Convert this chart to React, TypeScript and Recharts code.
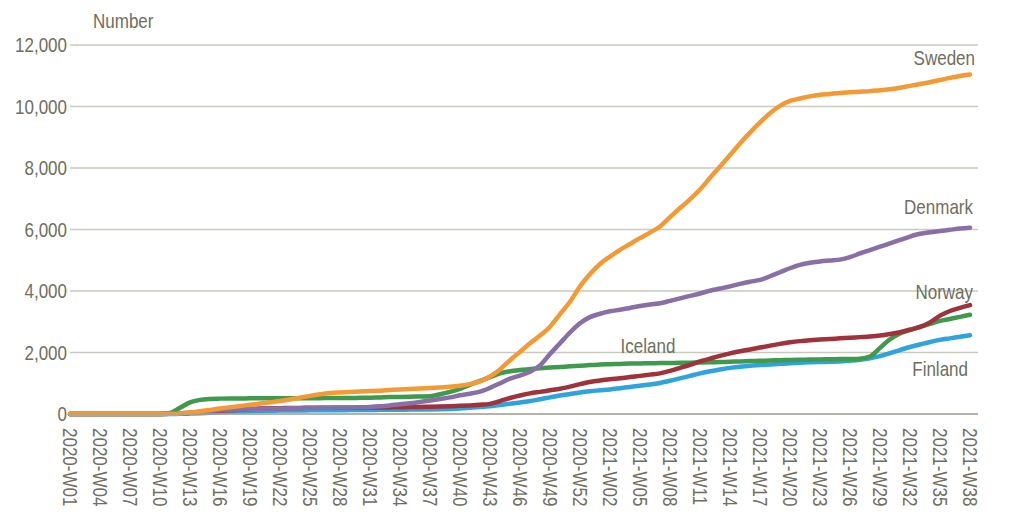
import { CartesianGrid, Line, LineChart, ReferenceDot, XAxis, YAxis } from 'recharts';

const weeks: string[] = [];
for (let w = 1; w <= 53; w++) weeks.push(`2020-W${String(w).padStart(2, '0')}`);
for (let w = 1; w <= 38; w++) weeks.push(`2021-W${String(w).padStart(2, '0')}`);

const sweden = [
    0, 0, 0, 0, 0, 0, 0, 0, 0, 0,
    5, 20, 50, 90, 130, 180, 220, 260, 300, 340,
    380, 420, 470, 530, 590, 640, 680, 700, 715, 730,
    745, 760, 780, 800, 815, 830, 845, 865, 890, 920,
    970, 1060, 1220, 1450, 1750, 2020, 2300, 2550, 2840, 3250,
    3650, 4150, 4550,
    4880, 5120, 5340, 5530, 5720, 5900, 6100, 6400, 6700, 6980,
    7300, 7680, 8050, 8420, 8800, 9150, 9480, 9780, 10020, 10180,
    10260, 10330, 10380, 10410, 10440, 10460, 10480, 10500, 10530, 10560,
    10610, 10670, 10730, 10790, 10860, 10930, 10990, 11040,
];
const denmark = [
    0, 0, 0, 0, 0, 0, 0, 0, 0, 0,
    5, 15, 40, 70, 100, 120, 140, 150, 160, 170,
    175, 180, 185, 190, 195, 200, 205, 210, 215, 220,
    230, 250, 280, 320, 350, 390, 440, 490, 540, 610,
    660, 725, 850, 1000, 1150, 1250, 1375, 1580, 1950, 2300,
    2650, 2950, 3150,
    3260, 3340, 3390, 3450, 3510, 3560, 3600, 3680, 3760, 3840,
    3920, 4010, 4080, 4150, 4230, 4300, 4360, 4480, 4610, 4740,
    4850, 4920, 4960, 4990, 5020, 5100, 5220, 5330, 5440, 5550,
    5660, 5770, 5860, 5910, 5950, 5990, 6030, 6060,
];
const norway = [
    0, 0, 0, 0, 0, 0, 0, 0, 0, 0,
    5, 20, 40, 60, 80, 100, 120, 140, 160, 175,
    185, 190, 195, 198, 200, 200, 200, 200, 200, 205,
    210, 210, 215, 220, 225, 230, 235, 240, 250, 265,
    280, 300, 330, 420, 520, 600, 670, 720, 770, 820,
    890, 970, 1040,
    1090, 1130, 1160, 1200, 1240, 1280, 1320, 1400, 1500, 1600,
    1710, 1800, 1890, 1970, 2040, 2100, 2160, 2220, 2280, 2330,
    2370, 2400, 2420, 2440, 2460, 2480, 2500, 2520, 2550, 2600,
    2660, 2740, 2830, 2980, 3200, 3350, 3450, 3540,
];
const iceland = [
    0, 0, 0, 0, 0, 0, 0, 0, 0, 0,
    30, 200, 380, 460, 490, 500, 505, 505, 510, 510,
    510, 510, 510, 515, 515, 515, 520, 520, 520, 525,
    530, 540, 550, 555, 560, 570, 580, 640, 720, 820,
    950, 1080, 1200, 1320, 1390, 1430, 1460, 1490, 1510, 1530,
    1550, 1570, 1590,
    1610, 1620, 1630, 1640, 1645, 1650, 1655, 1660, 1665, 1670,
    1675, 1680, 1690, 1700, 1710, 1720, 1730, 1740, 1750, 1760,
    1765, 1770, 1775, 1780, 1785, 1790, 1800, 1870, 2150, 2430,
    2620, 2740, 2830, 2930, 3030, 3090, 3160, 3230,
];
const finland = [
    0, 0, 0, 0, 0, 0, 0, 0, 0, 0,
    2, 5, 15, 25, 40, 55, 70, 80, 90, 100,
    105, 110, 112, 115, 118, 120, 122, 125, 127, 130,
    132, 135, 138, 140, 143, 146, 150, 155, 165, 180,
    200, 225, 255, 290, 330, 375, 420, 480, 540, 600,
    650, 700, 740,
    770, 800, 840, 880, 920, 960, 1010, 1080, 1160, 1240,
    1320, 1390, 1450, 1500, 1540, 1570, 1590, 1610, 1630, 1650,
    1665, 1680, 1690, 1700, 1710, 1730, 1760, 1810, 1880, 1980,
    2080, 2180, 2260, 2340, 2410, 2460, 2510, 2560,
];

const yTicks = [0, 2000, 4000, 6000, 8000, 10000, 12000];

const data = weeks.map((week, i) => ({
    week,
    Sweden: sweden[i],
    Denmark: denmark[i],
    Norway: norway[i],
    Iceland: iceland[i],
    Finland: finland[i],
}));

// no narrow font installed, so squeeze Liberation Sans sideways
const FONT = '"Liberation Sans", Arial, sans-serif';
const NARROW = 0.85;
const TEXT = '#6f6e60';

// drawn in this order, last on top
const series = [
    { key: 'Finland', color: '#2ea3dd' },
    { key: 'Iceland', color: '#3f9a4e' },
    { key: 'Norway', color: '#a0323c' },
    { key: 'Denmark', color: '#8a6fa7' },
    { key: 'Sweden', color: '#f39a34' },
];

const last = weeks[weeks.length - 1];
const labels = [
    { text: 'Sweden', week: last, value: sweden[90], dx: 5, dy: -10, anchor: 'end' },
    { text: 'Denmark', week: last, value: denmark[90], dx: 3, dy: -14, anchor: 'end' },
    { text: 'Norway', week: last, value: norway[90], dx: 3, dy: -6, anchor: 'end' },
    { text: 'Finland', week: last, value: finland[90], dx: -2, dy: 41, anchor: 'end' },
    { text: 'Iceland', week: '2021-W06', value: iceland[58], dx: -2, dy: -10, anchor: 'middle' },
];

const NarrowText = ({ x, y, rotate = 0, anchor, dy, children }: any) => (
    <g transform={`translate(${x},${y}) rotate(${rotate}) scale(${NARROW},1)`}>
        <text x={0} y={0} dy={dy} textAnchor={anchor} fill={TEXT} fontSize={20} fontFamily={FONT}>
            {children}
        </text>
    </g>
);

const WeekTick = (props: any) => {
    const { x, y, payload } = props;
    return <NarrowText x={x} y={y} rotate={90} anchor="start" dy="0.35em">{payload.value}</NarrowText>;
};

const ValueTick = (props: any) => {
    const { x, y, payload } = props;
    return <NarrowText x={x} y={y} anchor="end" dy="0.35em">{payload.value.toLocaleString('en-US')}</NarrowText>;
};

const App = () => {
    return (
        <div style={{ position: 'absolute', left: 0, top: 0, width: 1019, height: 521, background: '#fff' }}>
            <div style={{ position: 'absolute', left: 93, top: 10, fontSize: 20, fontFamily: FONT, color: TEXT, lineHeight: '23px', transform: `scaleX(${NARROW})`, transformOrigin: 'left' }}>
                Number
            </div>
            <LineChart width={1019} height={521} data={data} margin={{ top: 45, right: 41, left: 0, bottom: 0 }}>
                <CartesianGrid vertical={false} stroke="#c9c9bd" strokeWidth={1.5} />
                <XAxis
                    dataKey="week"
                    interval={2}
                    height={107}
                    tickLine={false}
                    tickSize={0}
                    tickMargin={14}
                    axisLine={{ stroke: '#a8a796', strokeWidth: 1.5 }}
                    padding={{ left: 0, right: 8 }}
                    tick={<WeekTick />}
                />
                <YAxis
                    width={70}
                    domain={[0, 12000]}
                    ticks={yTicks}
                    axisLine={false}
                    tickLine={false}
                    tickSize={0}
                    tickMargin={3}
                    tick={<ValueTick />}
                />
                {series.map(s => (
                    <Line
                        key={s.key}
                        type="monotone"
                        dataKey={s.key}
                        stroke={s.color}
                        strokeWidth={4.5}
                        strokeLinecap="round"
                        dot={false}
                        activeDot={false}
                        isAnimationActive={false}
                    />
                ))}
                {labels.map(l => (
                    <ReferenceDot
                        key={l.text}
                        x={l.week}
                        y={l.value}
                        r={0}
                        stroke="none"
                        fill="none"
                        label={(p: any) => (
                            <NarrowText x={p.viewBox.x + l.dx} y={p.viewBox.y + l.dy} anchor={l.anchor}>
                                {l.text}
                            </NarrowText>
                        )}
                    />
                ))}
            </LineChart>
        </div>
    )
}

export default App
